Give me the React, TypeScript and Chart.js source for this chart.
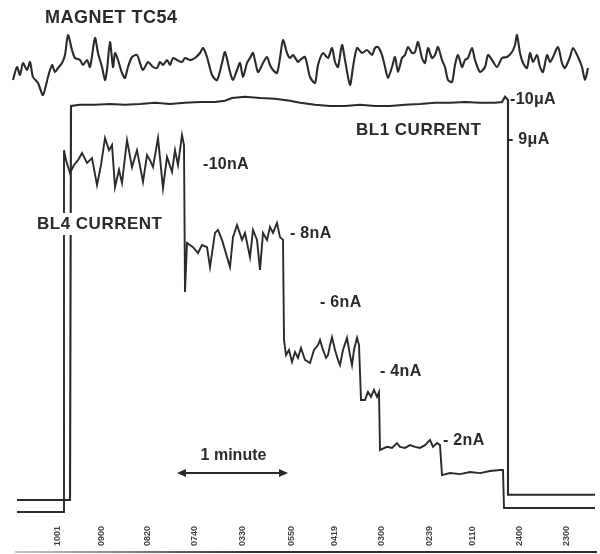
import { useEffect, useRef } from "react";
import { Chart, registerables } from "chart.js";

Chart.register(...registerables);

// ---- Magnet TC54 trace (chart position, deviation in arbitrary units) ----
const magnetX = [13,17,20,23,27,30,33,38,43,48,52,55,58,62,65,68,72,75,80,83,87,90,95,98,102,105,107,110,113,115,118,122,125,128,132,137,140,143,148,153,157,160,163,167,170,173,177,182,185,190,195,200,203,207,212,217,222,225,230,233,237,240,243,247,250,253,258,263,267,270,273,277,280,283,287,290,293,298,300,305,310,315,318,323,328,332,335,338,342,345,350,353,357,362,367,372,375,378,382,385,388,392,395,398,402,405,408,412,415,418,422,425,428,432,435,438,442,445,448,452,455,458,462,465,468,472,475,480,485,488,492,497,502,507,512,515,517,520,523,527,530,533,537,540,543,547,550,553,558,562,565,570,573,578,582,585,588];
const magnetDev = [-12,1,-7,5,-2,6,-9,-15,-27,-9,3,-4,0,5,13,33,18,10,8,3,8,1,30,15,1,-12,-2,26,1,15,8,-5,-10,1,11,13,5,-2,6,1,0,6,3,8,3,10,8,6,10,8,10,15,20,11,-7,-12,5,16,-4,-12,-2,5,-9,5,10,15,-4,5,11,3,-2,-5,10,28,15,10,13,6,8,11,-9,-15,3,15,10,20,6,1,23,8,-17,1,20,15,18,13,20,21,13,1,-10,1,11,-4,10,13,21,15,16,26,10,5,20,10,13,21,8,1,-12,-14,3,13,1,8,10,20,8,-4,1,13,8,1,10,11,16,23,33,15,5,0,15,6,13,1,-4,13,6,11,21,5,0,11,20,11,1,-12,0];

// ---- BL1 current (µA) ----
const bl1X = [17,70,71,80,95,110,125,140,155,170,185,200,215,225,232,245,260,275,290,300,315,330,345,360,375,390,405,420,435,450,465,480,495,502,505,508,508,595];
const bl1uA = [0,0,9.85,9.88,9.88,9.9,9.88,9.9,9.93,9.9,9.93,9.95,9.95,9.98,10.05,10.08,10.05,10.03,9.98,9.93,9.88,9.85,9.85,9.88,9.85,9.85,9.88,9.9,9.93,9.93,9.95,9.93,9.93,9.95,10.08,10.0,0.13,0.13];

// ---- BL4 current (nA) ----
const bl4X = [17,64,64,66,70,74,78,82,87,92,97,101,105,109,112,115,119,122,127,132,137,143,147,150,153,158,163,167,172,175,178,182,184,185,187,193,198,202,207,210,215,218,222,230,233,237,242,245,250,253,257,260,263,267,270,273,277,280,283,284,286,289,292,295,298,301,305,310,314,318,320,323,326,328,330,332,335,338,340,343,347,350,352,354,357,359,361,365,368,371,374,377,379,380,387,392,397,400,405,410,415,420,425,430,433,437,440,442,450,460,470,480,490,500,503,504,595];
const bl4nA = [-0.06,-0.06,10.43,10.14,9.77,10.0,10.14,10.35,10.06,10.2,9.42,10.0,10.78,10.43,10.58,9.36,9.86,9.48,10.72,9.94,10.43,9.51,10.29,10.14,9.94,10.78,9.33,10.23,9.8,10.43,10.0,10.87,10.58,6.32,7.74,7.62,7.45,7.68,7.62,7.04,8.03,8.12,7.83,7.04,7.91,8.26,7.83,8.03,7.33,8.12,7.83,6.96,8.03,7.83,8.2,8.03,8.32,7.91,7.83,4.93,4.49,4.64,4.29,4.58,4.41,4.7,4.35,4.26,4.64,4.78,4.93,4.64,4.41,4.49,4.78,5.01,4.64,4.35,4.2,4.64,4.99,4.49,4.2,4.64,4.99,4.78,3.19,3.19,3.42,3.28,3.48,3.28,3.42,1.74,1.83,1.8,1.94,1.83,1.8,1.88,1.83,1.8,1.88,2.03,1.83,1.94,1.88,1.01,1.07,1.04,1.1,1.07,1.13,1.16,1.16,0.06,0.06];

// ---- scale marks and time ticks ----
const bl1Marks = [10, 9];
const bl1MarkLabels = ["-10μA", "- 9μA"];
const bl4Marks = [10, 8, 6, 4, 2];
const bl4MarkLabels = ["-10nA", "- 8nA", "- 6nA", "- 4nA", "- 2nA"];
const timeTickX = [58, 102, 148, 195, 243, 292, 335, 382, 430, 473, 520, 567];
const timeTickLabels = ["1001", "0900", "0820", "0740", "0330", "0550", "0419", "0300", "0239", "0110", "2400", "2300"];
const minuteSpan = [177, 288];

const pts = (xs: number[], ys: number[]) => xs.map((x, i) => ({ x, y: ys[i] }));

const INK = "#2a2a2a";
const LETTER = "bold 17px 'Liberation Sans', Arial, sans-serif";

const annotate = {
  id: "annotate",
  afterDatasetsDraw(chart: any) {
    const ctx = chart.ctx;
    const sx = chart.scales.x;
    const y1 = chart.scales.yBL1;
    const y4 = chart.scales.yBL4;
    const ym = chart.scales.yMag;
    const area = chart.chartArea;
    ctx.save();
    ctx.fillStyle = INK;
    ctx.textBaseline = "middle";
    ctx.textAlign = "left";

    ctx.font = "bold 18px 'Liberation Sans', Arial, sans-serif";
    ctx.letterSpacing = "0.5px";
    ctx.fillText("MAGNET TC54", sx.getPixelForValue(45), ym.getPixelForValue(50));

    ctx.font = LETTER;
    ctx.letterSpacing = "0.5px";
    ctx.fillText("BL1 CURRENT", sx.getPixelForValue(356), y1.getPixelForValue(9.25));
    // BL4 label interrupts the vertical traces, as in the original
    const bx = sx.getPixelForValue(37);
    const by = y4.getPixelForValue(8.29);
    const bw = ctx.measureText("BL4 CURRENT").width;
    ctx.fillStyle = "#fff";
    ctx.fillRect(bx - 2, by - 11, bw + 4, 22);
    ctx.fillStyle = INK;
    ctx.fillText("BL4 CURRENT", bx, by);

    ctx.font = "bold 16px 'Liberation Sans', Arial, sans-serif";
    ctx.letterSpacing = "0.3px";
    const bl1MarkX = [510, 508];
    bl1Marks.forEach((v, i) => {
      ctx.fillText(bl1MarkLabels[i], sx.getPixelForValue(bl1MarkX[i]), y1.getPixelForValue(v));
    });
    const bl4MarkX = [203, 290, 320, 380, 443];
    bl4Marks.forEach((v, i) => {
      ctx.fillText(bl4MarkLabels[i], sx.getPixelForValue(bl4MarkX[i]), y4.getPixelForValue(v));
    });

    // 1 minute
    ctx.font = "bold 16px 'Liberation Sans', Arial, sans-serif";
    ctx.letterSpacing = "0px";
    ctx.textAlign = "center";
    const xa = sx.getPixelForValue(minuteSpan[0]);
    const xb = sx.getPixelForValue(minuteSpan[1]);
    ctx.fillText("1 minute", (xa + xb) / 2 + 1, y4.getPixelForValue(1.59));
    const ay = y4.getPixelForValue(1.07);
    ctx.strokeStyle = INK;
    ctx.lineWidth = 2;
    ctx.beginPath();
    ctx.moveTo(xa + 2, ay);
    ctx.lineTo(xb - 2, ay);
    ctx.stroke();
    ctx.beginPath();
    ctx.moveTo(xa, ay);
    ctx.lineTo(xa + 9, ay - 4);
    ctx.lineTo(xa + 9, ay + 4);
    ctx.closePath();
    ctx.moveTo(xb, ay);
    ctx.lineTo(xb - 9, ay - 4);
    ctx.lineTo(xb - 9, ay + 4);
    ctx.closePath();
    ctx.fill();

    // bottom axis line
    const baseY = area.bottom - 2;
    const grad = ctx.createLinearGradient(15, 0, 260, 0);
    grad.addColorStop(0, "#c8c8c8");
    grad.addColorStop(1, "#2e2e2e");
    ctx.strokeStyle = grad;
    ctx.lineWidth = 2;
    ctx.beginPath();
    ctx.moveTo(sx.getPixelForValue(15), baseY);
    ctx.lineTo(sx.getPixelForValue(597), baseY);
    ctx.stroke();

    // time tick labels (rotated)
    ctx.font = "bold 9px 'Liberation Sans', Arial, sans-serif";
    ctx.fillStyle = "#444";
    ctx.textAlign = "center";
    timeTickX.forEach((t, i) => {
      ctx.save();
      ctx.translate(sx.getPixelForValue(t), baseY - 16);
      ctx.rotate(-Math.PI / 2);
      ctx.fillText(timeTickLabels[i], 0, 0);
      ctx.restore();
    });
    ctx.restore();
  },
};

export default function App() {
  const ref = useRef<HTMLCanvasElement>(null);
  useEffect(() => {
    if (!ref.current) return;
    const line = { borderColor: INK, borderWidth: 2.1, pointRadius: 0, fill: false };
    const chart = new Chart(ref.current, {
      type: "line",
      data: {
        datasets: [
          { ...line, label: "MAGNET TC54", data: pts(magnetX, magnetDev), yAxisID: "yMag", tension: 0.25 },
          { ...line, label: "BL1 CURRENT", data: pts(bl1X, bl1uA), yAxisID: "yBL1", tension: 0 },
          { ...line, label: "BL4 CURRENT", data: pts(bl4X, bl4nA), yAxisID: "yBL4", tension: 0, borderWidth: 1.9 },
        ],
      },
      options: {
        animation: false,
        responsive: false,
        devicePixelRatio: 1,
        layout: { padding: 0 },
        plugins: { legend: { display: false }, tooltip: { enabled: false } },
        scales: {
          x: { type: "linear", min: 0, max: 600, display: false },
          yMag: { type: "linear", min: -486, max: 68, display: false },
          yBL1: { type: "linear", min: -1.35, max: 12.5, display: false },
          yBL4: { type: "linear", min: -1.2754, max: 14.7826, display: false },
        },
      },
      plugins: [annotate],
    });
    return () => chart.destroy();
  }, []);
  return (
    <div style={{ position: "absolute", left: 0, top: 0, width: 600, height: 554, background: "#fff" }}>
      <canvas ref={ref} width={600} height={554} />
    </div>
  );
}
